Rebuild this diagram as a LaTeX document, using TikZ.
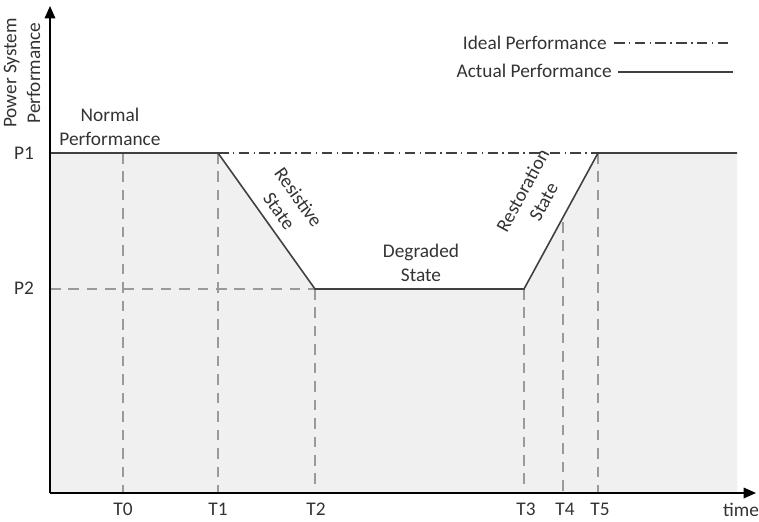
\documentclass[tikz,border=0pt]{standalone}
\usepackage{fontspec}
\setmainfont{Carlito}
\usetikzlibrary{arrows.meta}
\definecolor{areagray}{HTML}{F0F0F0}
\definecolor{curvegray}{HTML}{404040}
\definecolor{guidegray}{HTML}{9A9A9A}
\definecolor{textgray}{HTML}{333333}
\tikzset{
  lbl/.style={font=\fontsize{11}{13.5}\selectfont, text=textgray, align=center, inner sep=0pt},
  guide/.style={guidegray, line width=0.8pt, dash pattern=on 6pt off 4.5pt},
  actual/.style={curvegray, line width=0.9pt},
  ideal/.style={curvegray, line width=0.8pt, dash pattern=on 6pt off 2.5pt on 0.8pt off 2.5pt},
  axis/.style={black, line width=0.9pt, -{Triangle[length=7pt,width=6pt]}}
}
\begin{document}
\begin{tikzpicture}[x=0.02cm,y=-0.02cm]
    \useasboundingbox (0,0) rectangle (759,521);
    % points of the curve
    \coordinate (o) at (50,493);
    \coordinate (p1) at (50,153);
    \coordinate (p2) at (50,289);
    \coordinate (c1) at (218,153);
    \coordinate (c2) at (315,289);
    \coordinate (c3) at (524,289);
    \coordinate (c5) at (598,153);
    \coordinate (cend) at (737,153);
    \coordinate (c0) at (123,153);
    \coordinate (c4) at (563,222);
    \coordinate (ytop) at (50,6);
    \coordinate (xend) at (756,493);
    % area under the curve
    \fill[areagray] (p1) -- (c1) -- (c2) -- (c3) -- (c5) -- (cend) -- (cend |- o) -- (o) -- cycle;
    % guide lines
    \draw[guide] (p2) -- (c2);
    \foreach \c in {c0,c1,c2,c3,c4,c5}
      \draw[guide] (\c) -- (\c |- o);
    % ideal and actual
    \draw[ideal] (c1) -- (c5);
    \draw[actual] (p1) -- (c1) -- (c2) -- (c3) -- (c5) -- (cend);
    % axes
    \draw[axis] (o) -- (ytop);
    \draw[axis] (o) -- (xend);
    % labels
    \node[lbl, rotate=90] (ylab) at (22,73) {Power System\\Performance};
    \node[lbl] (p1lab) at (24,153) {P1};
    \node[lbl] (p2lab) at (24,288) {P2};
    \node[lbl] (t0) at (123,509) {T0};
    \node[lbl] (t1) at (218,509) {T1};
    \node[lbl] (t2) at (316,509) {T2};
    \node[lbl] (t3) at (526,509) {T3};
    \node[lbl] (t4) at (565,509) {T4};
    \node[lbl] (t5) at (600,509) {T5};
    \node[lbl] (time) at (741,510) {time};
    \node[lbl] (normal) at (110,127) {Normal\\Performance};
    \node[lbl, rotate=-54.5] (resist) at (289,204) {Resistive\\State};
    \node[lbl] (degr) at (421,263) {Degraded\\State};
    \node[lbl, rotate=61.4] (restore) at (533,196) {Restoration\\State};
    % legend
    \node[lbl, anchor=east] (ideallab) at (607,43) {Ideal Performance};
    \node[lbl, anchor=east] (actuallab) at (612,71) {Actual Performance};
    \coordinate (l1) at (614,43);
    \coordinate (l2) at (728,43);
    \coordinate (l3) at (618,72);
    \coordinate (l4) at (733,72);
    \draw[ideal] (l1) -- (l2);
    \draw[actual] (l3) -- (l4);
  \end{tikzpicture}
\end{document}
